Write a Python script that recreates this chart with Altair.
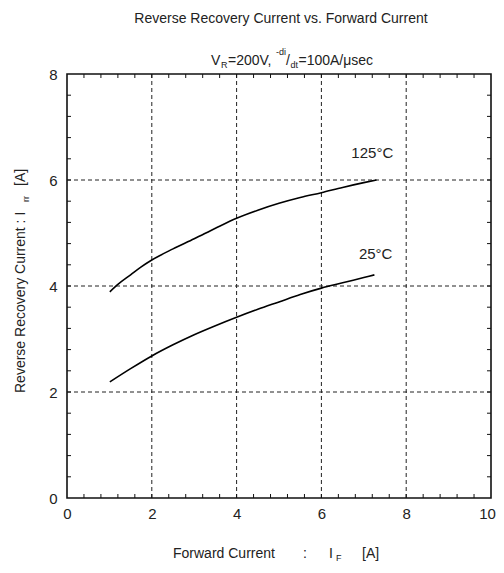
import altair as alt
import pandas as pd

# ---------------- data ----------------
if_125 = [1.01, 1.2, 1.5, 1.75, 2.0, 2.5, 3.0, 3.5, 4.0, 4.5, 5.0, 5.5, 6.0, 6.5, 7.0, 7.3]
irr_125 = [3.89, 4.03, 4.21, 4.36, 4.49, 4.70, 4.89, 5.09, 5.28, 5.43, 5.56, 5.67, 5.76, 5.86, 5.95, 6.00]
if_25 = [1.01, 1.5, 2.0, 2.5, 3.0, 3.5, 4.0, 4.5, 5.0, 5.5, 6.0, 6.5, 7.0, 7.25]
irr_25 = [2.19, 2.44, 2.68, 2.89, 3.08, 3.25, 3.41, 3.56, 3.70, 3.84, 3.96, 4.06, 4.16, 4.21]

series_names = ["125°C", "25°C"]
label_x = [7.2, 7.28]
label_y = [6.51, 4.6]

x_labels = [0, 2, 4, 6, 8, 10]
y_labels = [0, 2, 4, 6, 8]
grid_x = [2, 4, 6, 8]
grid_y = [2, 4, 6]
minor_x = [0.4, 0.8, 1.2, 1.6, 2.0, 2.4, 2.8, 3.2, 3.6, 4.0, 4.4, 4.8,
           5.2, 5.6, 6.0, 6.4, 6.8, 7.2, 7.6, 8.0, 8.4, 8.8, 9.2, 9.6]
minor_y = [0.4, 0.8, 1.2, 1.6, 2.0, 2.4, 2.8, 3.2, 3.6, 4.0,
           4.4, 4.8, 5.2, 5.6, 6.0, 6.4, 6.8, 7.2, 7.6]

title_text = "Reverse Recovery Current vs. Forward Current"
x_title_parts = ["Forward Current", ":", "I", "F", "[A]"]
y_title_parts = ["Reverse Recovery Current : I", "rr", "[A]"]
sub_parts = ["V", "R", "=200V,", "-di", "/", "dt", "=100A/μsec"]

W, H = 424, 424
FONT = "Liberation Sans"
TXT = "#222222"

# ---------------- tables ----------------
curves = pd.concat([
    pd.DataFrame({"x": if_125, "y": irr_125, "s": series_names[0], "o": range(len(if_125))}),
    pd.DataFrame({"x": if_25, "y": irr_25, "s": series_names[1], "o": range(len(if_25))}),
])
labels = pd.DataFrame({"x": label_x, "y": label_y, "t": series_names})

xscale = alt.Scale(domain=[0, 10], nice=False, zero=False)
yscale = alt.Scale(domain=[0, 8], nice=False, zero=False)
X = alt.X("x:Q", scale=xscale, title=None,
          axis=alt.Axis(values=x_labels, ticks=False, domain=False, grid=False,
                        labelFontSize=15, labelPadding=8, labelFont=FONT,
                        labelColor=TXT, labelFlush=False, title=None,
                        labelOffset={"expr": "datum.value == 10 ? -4 : 0"}))
Y = alt.Y("y:Q", scale=yscale, title=None,
          axis=alt.Axis(values=y_labels, ticks=False, domain=False, grid=False,
                        labelFontSize=15, labelPadding=10, labelFont=FONT,
                        labelColor=TXT, labelFlush=False, title=None))

lines = alt.Chart(curves).mark_line(color="black", strokeWidth=1.6, interpolate="monotone").encode(
    x=X, y=Y, detail="s:N", order="o:Q")

gx = alt.Chart(pd.DataFrame({"x": grid_x})).mark_rule(
    color="#222", strokeWidth=1, strokeDash=[4, 3]).encode(x=X, y=alt.value(0), y2=alt.value(H))
gy = alt.Chart(pd.DataFrame({"y": grid_y})).mark_rule(
    color="#222", strokeWidth=1, strokeDash=[4, 3]).encode(y=Y, x=alt.value(0), x2=alt.value(W))

mx = pd.DataFrame({"x": minor_x})
my = pd.DataFrame({"y": minor_y})
tick_b = alt.Chart(mx).mark_rule(color="#111", strokeWidth=1).encode(x=X, y=alt.value(H), y2=alt.value(H - 4))
tick_t = alt.Chart(mx).mark_rule(color="#111", strokeWidth=1).encode(x=X, y=alt.value(0), y2=alt.value(4))
tick_l = alt.Chart(my).mark_rule(color="#111", strokeWidth=1).encode(y=Y, x=alt.value(0), x2=alt.value(4))
tick_r = alt.Chart(my).mark_rule(color="#111", strokeWidth=1).encode(y=Y, x=alt.value(W), x2=alt.value(W - 4))

lab = alt.Chart(labels).mark_text(font=FONT, fontSize=15, color=TXT, align="center",
                                  baseline="middle").encode(x=X, y=Y, text="t:N")


def txt(s, x, y, size=14, align="left", angle=0):
    return alt.Chart(pd.DataFrame({"t": [s]})).mark_text(
        font=FONT, fontSize=size, color=TXT, align=align, baseline="alphabetic", angle=angle
    ).encode(x=alt.value(x), y=alt.value(y), text="t:N")


texts = [
    txt(title_text, 214, -51, 14, "center"),
    # subtitle
    txt(sub_parts[0], 144, -9, 14),
    txt(sub_parts[1], 154, -6, 9),
    txt(sub_parts[2], 161, -9, 14),
    txt(sub_parts[3], 209, -19, 9),
    txt(sub_parts[4], 219, -9, 14),
    txt(sub_parts[5], 223.5, -6, 9),
    txt(sub_parts[6], 231.5, -9, 14),
    # x title
    txt(x_title_parts[0], 106, 484, 14),
    txt(x_title_parts[1], 236, 484, 14),
    txt(x_title_parts[2], 262, 484, 14),
    txt(x_title_parts[3], 269, 487, 9),
    txt(x_title_parts[4], 295, 484, 14),
    # y title (rotated)
    txt(y_title_parts[0], -42, 319, 14, angle=270),
    txt(y_title_parts[1], -38, 128, 9, angle=270),
    txt(y_title_parts[2], -42, 112, 14, angle=270),
]

chart = alt.layer(gx, gy, tick_b, tick_t, tick_l, tick_r, lines, lab, *texts).properties(
    width=W, height=H,
    autosize=alt.AutoSizeParams(type="none"),
    padding={"left": 59, "top": 66, "right": 5, "bottom": 67},
).configure_view(stroke="#111", strokeWidth=1.6)

chart.save("out.html", embed_options={"renderer": "svg", "actions": False})
